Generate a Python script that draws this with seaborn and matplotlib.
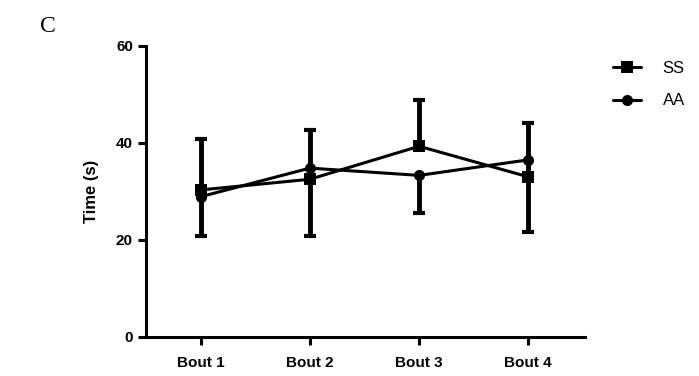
import numpy as np
import pandas as pd
import matplotlib
matplotlib.use("Agg")
import matplotlib.pyplot as plt
import seaborn as sns

# =============================================
# Data
# (SS bars point up, AA bars point down, as in the original)
bouts = ['Bout 1', 'Bout 2', 'Bout 3', 'Bout 4']
ss_mean = [30.3, 32.5, 39.3, 33.0]
ss_err = [10.4, 10.2, 9.6, 11.2]
aa_mean = [28.9, 34.8, 33.3, 36.5]
aa_err = [8.1, 14.1, 7.8, 14.8]
groups = ['SS', 'AA']
yticks = [0, 20, 40, 60]

# =============================================
# Plotting parameters
tickFontSize = 11
labelFontSize = 12

sns.set_theme(style="white")
plt.rcParams['font.family'] = ['Liberation Sans', 'DejaVu Sans']
plt.rcParams['text.color'] = 'black'
plt.rcParams['axes.labelcolor'] = 'black'
plt.rcParams['xtick.color'] = 'black'
plt.rcParams['ytick.color'] = 'black'

df = pd.DataFrame({
    'bout': bouts * 2,
    'time': ss_mean + aa_mean,
    'err': ss_err + aa_err,
    'group': ['SS'] * 4 + ['AA'] * 4,
})

f = plt.figure(figsize=(6.99, 3.76), dpi=100)
ax = f.add_axes([0.209, 0.104, 0.628, 0.774])

# one-sided error bars, drawn first so the markers sit on top
for g in groups:
    sub = df[df['group'] == g]
    zeros = np.zeros(len(sub))
    if g == 'SS':
        yerr = [zeros, sub['err'].values]
    else:
        yerr = [sub['err'].values, zeros]
    eb = ax.errorbar(sub['bout'], sub['time'], yerr=yerr, fmt='none',
                     ecolor='black', elinewidth=3.5, capsize=4.5, capthick=3, zorder=2)
    # hide the cap that sits on the mean itself
    for cap in eb[1]:
        if np.allclose(cap.get_ydata(), sub['time'].values):
            cap.set_visible(False)

sns.lineplot(data=df, x='bout', y='time', hue='group', style='group',
             hue_order=groups, style_order=groups,
             palette={'SS': 'black', 'AA': 'black'},
             markers={'SS': 's', 'AA': 'o'}, dashes=False,
             markersize=8, linewidth=2.2, markeredgewidth=0,
             sort=False, ax=ax, zorder=3)

ax.set_xlim(-0.5, 3.52)
ax.set_ylim(0, 60)
ax.set_yticks(yticks)
ax.set_xlabel(None)
ax.set_ylabel('Time (s)', fontsize=labelFontSize, fontweight='bold', labelpad=12)

sns.despine(ax=ax)
for side in ['left', 'bottom']:
    ax.spines[side].set_linewidth(2.2)
    ax.spines[side].set_color('black')
ax.tick_params(axis='both', which='major', direction='out', length=6, width=2.2,
               color='black', labelcolor='black', labelsize=tickFontSize,
               left=True, bottom=True)
ax.tick_params(axis='x', pad=8)
for lab in ax.get_xticklabels() + ax.get_yticklabels():
    lab.set_fontweight('bold')

leg = ax.legend(loc='upper left', bbox_to_anchor=(0.855, 0.878),
                bbox_transform=f.transFigure, frameon=False,
                fontsize=12, handlelength=1.7, labelspacing=1.05, handletextpad=1.3)
for line in leg.get_lines():
    line.set_linewidth(2.2)
for txt in leg.get_texts():
    txt.set_color('black')

f.text(0.057, 0.915, 'C', fontsize=17, family='Liberation Serif', va='baseline')

plt.savefig('out.png', dpi=100)
